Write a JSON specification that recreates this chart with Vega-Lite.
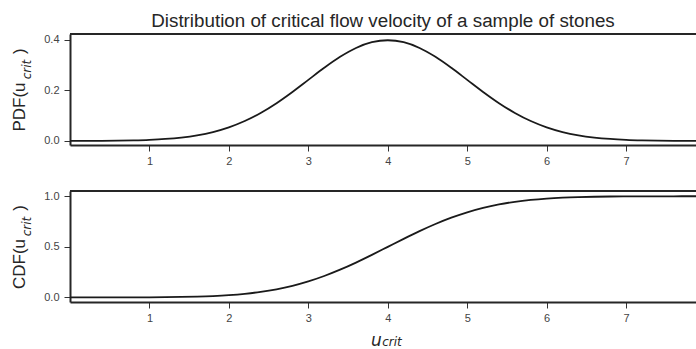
{
  "$schema": "https://vega.github.io/schema/vega-lite/v6.json",
  "padding": {"left": 10, "top": 12, "right": 0, "bottom": 0},
  "background": "white",
  "config": {
    "font": "Liberation Sans",
    "view": {"stroke": null},
    "concat": {"spacing": 24},
    "axis": {
      "grid": false,
      "domainColor": "#262626",
      "domainWidth": 2,
      "tickColor": "#333333",
      "tickWidth": 1,
      "tickSize": 6,
      "labelFont": "Liberation Sans",
      "labelFontSize": 11,
      "labelColor": "#444444",
      "titleFont": "Liberation Sans",
      "titleFontSize": 17,
      "titleFontWeight": "normal",
      "titleColor": "#262626"
    },
    "axisX": {"labelPadding": 4},
    "axisY": {"labelPadding": 5, "titlePadding": 15}
  },
  "title": {
    "text": "Distribution of critical flow velocity of a sample of stones",
    "font": "Liberation Sans",
    "fontSize": 18.8,
    "fontWeight": "normal",
    "color": "#262626",
    "anchor": "middle",
    "frame": "group",
    "offset": 2
  },
  "datasets": {
    "d": [
      {"u": 0.0, "pdf": 0.00013, "cdf": 0.00003},
      {"u": 0.2, "pdf": 0.00029, "cdf": 0.00007},
      {"u": 0.4, "pdf": 0.00061, "cdf": 0.00016},
      {"u": 0.6, "pdf": 0.00123, "cdf": 0.00034},
      {"u": 0.8, "pdf": 0.00238, "cdf": 0.00069},
      {"u": 1.0, "pdf": 0.00443, "cdf": 0.00135},
      {"u": 1.2, "pdf": 0.00792, "cdf": 0.00256},
      {"u": 1.4, "pdf": 0.01358, "cdf": 0.00466},
      {"u": 1.6, "pdf": 0.02239, "cdf": 0.00820},
      {"u": 1.8, "pdf": 0.03547, "cdf": 0.01390},
      {"u": 2.0, "pdf": 0.05399, "cdf": 0.02275},
      {"u": 2.2, "pdf": 0.07895, "cdf": 0.03593},
      {"u": 2.4, "pdf": 0.11092, "cdf": 0.05480},
      {"u": 2.6, "pdf": 0.14973, "cdf": 0.08076},
      {"u": 2.8, "pdf": 0.19419, "cdf": 0.11507},
      {"u": 3.0, "pdf": 0.24197, "cdf": 0.15866},
      {"u": 3.2, "pdf": 0.28969, "cdf": 0.21186},
      {"u": 3.4, "pdf": 0.33322, "cdf": 0.27425},
      {"u": 3.6, "pdf": 0.36827, "cdf": 0.34458},
      {"u": 3.8, "pdf": 0.39104, "cdf": 0.42074},
      {"u": 4.0, "pdf": 0.39894, "cdf": 0.50000},
      {"u": 4.2, "pdf": 0.39104, "cdf": 0.57926},
      {"u": 4.4, "pdf": 0.36827, "cdf": 0.65542},
      {"u": 4.6, "pdf": 0.33322, "cdf": 0.72575},
      {"u": 4.8, "pdf": 0.28969, "cdf": 0.78814},
      {"u": 5.0, "pdf": 0.24197, "cdf": 0.84134},
      {"u": 5.2, "pdf": 0.19419, "cdf": 0.88493},
      {"u": 5.4, "pdf": 0.14973, "cdf": 0.91924},
      {"u": 5.6, "pdf": 0.11092, "cdf": 0.94520},
      {"u": 5.8, "pdf": 0.07895, "cdf": 0.96407},
      {"u": 6.0, "pdf": 0.05399, "cdf": 0.97725},
      {"u": 6.2, "pdf": 0.03547, "cdf": 0.98610},
      {"u": 6.4, "pdf": 0.02239, "cdf": 0.99180},
      {"u": 6.6, "pdf": 0.01358, "cdf": 0.99534},
      {"u": 6.8, "pdf": 0.00792, "cdf": 0.99744},
      {"u": 7.0, "pdf": 0.00443, "cdf": 0.99865},
      {"u": 7.2, "pdf": 0.00238, "cdf": 0.99931},
      {"u": 7.4, "pdf": 0.00123, "cdf": 0.99966},
      {"u": 7.6, "pdf": 0.00061, "cdf": 0.99984},
      {"u": 7.8, "pdf": 0.00029, "cdf": 0.99993},
      {"u": 8.0, "pdf": 0.00013, "cdf": 0.99997}
    ]
  },
  "vconcat": [
    {
      "width": 626,
      "height": 111,
      "title": {
        "text": "crit",
        "orient": "left",
        "font": "DejaVu Sans",
        "fontSize": 12,
        "fontStyle": "italic",
        "fontWeight": "normal",
        "color": "#262626",
        "anchor": "middle",
        "frame": "group",
        "offset": 0,
        "dx": 20,
        "dy": 23
      },
      "layer": [
        {
          "data": {"name": "d"},
          "mark": {"type": "line", "color": "#1a1a1a", "strokeWidth": 1.8, "clip": true, "interpolate": "monotone"},
          "encoding": {
            "x": {"field": "u", "type": "quantitative",
              "scale": {"domain": [0, 7.88], "nice": false, "zero": false},
              "axis": {"values": [1, 2, 3, 4, 5, 6, 7], "format": "d", "title": null}},
            "y": {"field": "pdf", "type": "quantitative",
              "scale": {"domain": [-0.016, 0.4236], "nice": false, "zero": false},
              "axis": {"values": [0, 0.2, 0.4], "format": ".1f", "title": "PDF(u\u00a0\u00a0\u00a0\u00a0\u00a0\u00a0)"}}
          }
        },
        {
          "data": {"values": [{}]},
          "mark": {"type": "rule", "color": "#262626", "strokeWidth": 2},
          "encoding": {"y": {"datum": 0.4236}}
        }
      ]
    },
    {
      "title": {
        "text": "crit",
        "orient": "bottom",
        "font": "DejaVu Sans",
        "fontSize": 12,
        "fontStyle": "italic",
        "fontWeight": "normal",
        "color": "#262626",
        "anchor": "middle",
        "frame": "group",
        "offset": -11,
        "dx": 322
      },
      "vconcat": [
        {
          "width": 626,
          "height": 111,
          "title": {
            "text": "crit",
            "orient": "left",
            "font": "DejaVu Sans",
            "fontSize": 12,
            "fontStyle": "italic",
            "fontWeight": "normal",
            "color": "#262626",
            "anchor": "middle",
            "frame": "group",
            "offset": 0,
            "dx": 20,
            "dy": 23
          },
          "layer": [
            {
              "data": {"name": "d"},
              "mark": {"type": "line", "color": "#1a1a1a", "strokeWidth": 1.8, "clip": true, "interpolate": "monotone"},
              "encoding": {
                "x": {"field": "u", "type": "quantitative",
                  "scale": {"domain": [0, 7.88], "nice": false, "zero": false},
                  "axis": {"values": [1, 2, 3, 4, 5, 6, 7], "format": "d", "title": "u",
                    "titleFont": "DejaVu Sans", "titleFontStyle": "italic", "titleFontSize": 17, "titlePadding": 9, "titleX": 306}},
                "y": {"field": "cdf", "type": "quantitative",
                  "scale": {"domain": [-0.045, 1.052], "nice": false, "zero": false},
                  "axis": {"values": [0, 0.5, 1], "format": ".1f", "title": "CDF(u\u00a0\u00a0\u00a0\u00a0\u00a0\u00a0)"}}
              }
            },
            {
              "data": {"values": [{}]},
              "mark": {"type": "rule", "color": "#262626", "strokeWidth": 2},
              "encoding": {"y": {"datum": 1.052}}
            }
          ]
        }
      ]
    }
  ]
}
